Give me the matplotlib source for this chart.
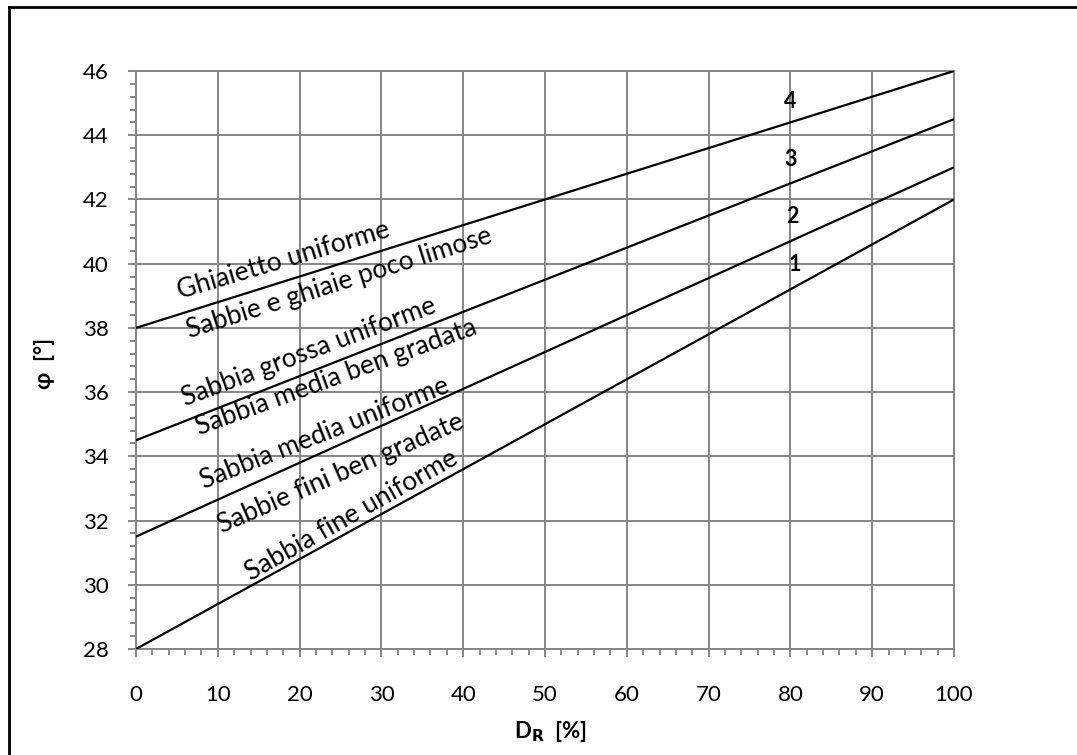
import numpy as np
import matplotlib.pyplot as plt
from matplotlib.lines import Line2D
from matplotlib.ticker import MultipleLocator

plt.rcParams['font.family'] = ['Lato', 'DejaVu Sans']

# limit lines: D_R [%] -> phi [deg]
dr = [0, 100]
line_1 = [28.0, 42.0]
line_2 = [31.5, 43.0]
line_3 = [34.5, 44.5]
line_4 = [38.0, 46.0]

soil_names = ["Ghiaietto uniforme", "Sabbie e ghiaie poco limose",
              "Sabbia grossa uniforme", "Sabbia media ben gradata",
              "Sabbia media uniforme", "Sabbie fini ben gradate",
              "Sabbia fine uniforme"]
soil_x = [18.0, 24.8, 21.1, 24.5, 23.1, 25.0, 26.4]
soil_y = [40.1, 39.4, 37.25, 36.45, 34.7, 33.45, 32.15]
soil_rot = [16.5, 17.5, 20.5, 20.0, 21.5, 23.5, 29.5]

num_labels = ["1", "2", "3", "4"]
num_x = [80.5, 80.2, 80.0, 80.0]
num_y = [39.96, 41.46, 43.23, 45.04]

grey = "#868686"

fig = plt.figure(figsize=(10.77, 7.55), dpi=100)
ax = fig.add_axes([136/1077, 1-649/755, 818/1077, 578/755])

for ys in (line_1, line_2, line_3, line_4):
    ax.plot(dr, ys, color="black", lw=1.6, solid_capstyle="butt", zorder=3)

for name, x, y, r in zip(soil_names, soil_x, soil_y, soil_rot):
    ax.text(x, y, name, rotation=r, ha="center", va="center",
            rotation_mode="anchor", fontsize=19, zorder=4)

for lab, x, y in zip(num_labels, num_x, num_y):
    ax.text(x, y, lab, ha="center", va="center", fontsize=15.5,
            fontweight="bold", zorder=4)

ax.set_xlim(0, 100)
ax.set_ylim(28, 46)
ax.xaxis.set_major_locator(MultipleLocator(10))
ax.xaxis.set_minor_locator(MultipleLocator(2))
ax.yaxis.set_major_locator(MultipleLocator(2))
ax.yaxis.set_minor_locator(MultipleLocator(0.4))
ax.grid(True, which="major", color=grey, lw=1.4)
ax.set_axisbelow(True)

for s in ax.spines.values():
    s.set_color(grey)
    s.set_linewidth(1.4)

ax.tick_params(which="major", direction="out", length=6, width=1.4,
               color=grey, labelsize=16)
ax.tick_params(which="minor", direction="out", length=4, width=1.4, color=grey)
ax.tick_params(axis="x", which="major", pad=20)
ax.tick_params(axis="y", which="major", pad=13.5)

ax.set_xlabel(r"D$_\mathbf{R}$  [%]", fontsize=16, fontweight="bold", va="center")
ax.set_ylabel("φ  [°]", fontsize=16, fontweight="bold", va="center")
ax.xaxis.set_label_coords(0.5 + 5/818, -83/578)
ax.yaxis.set_label_coords(-91/818, 0.5 - 3/578)

# chart frame (left and top edges visible)
fig.add_artist(Line2D([9/1077, 9/1077], [0, 1-7/755], color="black", lw=2,
                      transform=fig.transFigure))
fig.add_artist(Line2D([9/1077, 1], [1-7/755, 1-7/755], color="black", lw=2,
                      transform=fig.transFigure))

fig.savefig("out.png", dpi=100)
